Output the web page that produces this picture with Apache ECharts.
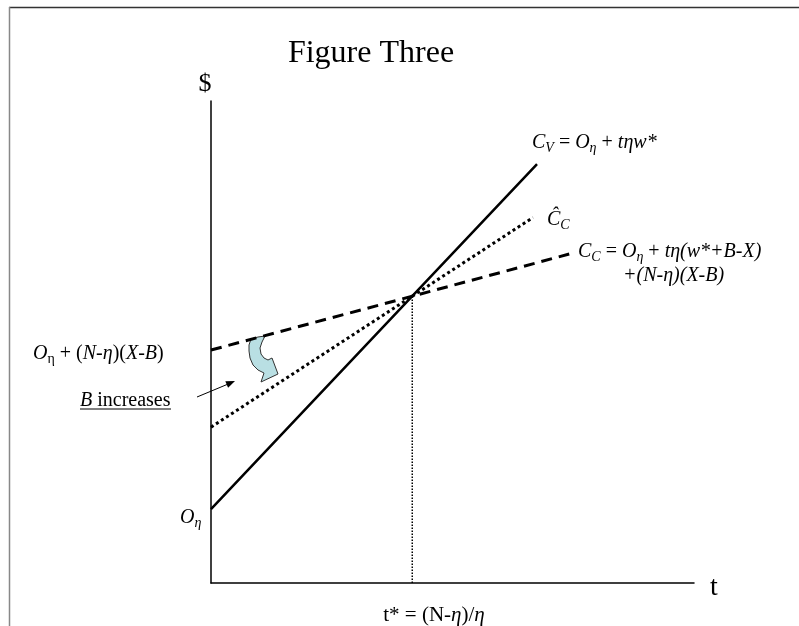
<!DOCTYPE html>
<html>
<head>
<meta charset="utf-8">
<script src="https://cdn.jsdelivr.net/npm/echarts@6/dist/echarts.min.js"></script>
<style>
html,body{margin:0;padding:0;background:#fff;}
#chart{width:799px;height:626px;}
</style>
</head>
<body>
<div id="chart"></div>
<script>
// ---- data (abstract units; x: 0..12, y: 0..12) ----
var xRange = [0, 12];
var yRange = [0, 12];
var tStar = 5;                       // t* = (N-eta)/eta
var crossY = 7.14;                   // value where the three lines meet
var cvLine = [[0, 1.84], [tStar, crossY], [8.1, 10.43]];   // C_V (solid)
var ccHatLine = [[0, 3.88], [tStar, crossY], [8.0, 9.1]];  // C-hat_C (dotted)
var ccLine = [[0, 5.80], [tStar, crossY], [8.9, 8.19]];    // C_C (dashed)
var tStarLine = [[tStar, 0], [tStar, crossY]];

var serif = '"Liberation Serif","Times New Roman",serif';
var chart = echarts.init(document.getElementById('chart'));

function rich(size) {
  var ss = Math.round(size * 0.68);
  var pad = Math.round(size * 0.55);
  return {
    n: {fontFamily: serif, fontSize: size, color: '#000'},
    i: {fontFamily: serif, fontSize: size, fontStyle: 'italic', color: '#000'},
    s: {fontFamily: serif, fontSize: ss, fontStyle: 'italic', color: '#000', padding: [pad, 0, 0, 0]},
    su: {fontFamily: serif, fontSize: ss, color: '#000', padding: [pad, 0, 0, 0]}
  };
}
function label(x, y, text, size) {
  return {type: 'text', x: x, y: y, style: {text: text, rich: rich(size), verticalAlign: 'middle', align: 'left'}};
}

var option = {
  animation: false,
  backgroundColor: '#fff',
  title: {
    text: 'Figure Three', left: 366, top: 33, textAlign: 'center',
    textStyle: {fontFamily: serif, fontSize: 32, fontWeight: 'normal', color: '#000'}
  },
  grid: {left: 211, right: 105, top: 101, bottom: 43},
  xAxis: {
    type: 'value', min: xRange[0], max: xRange[1],
    axisLine: {show: true, lineStyle: {color: '#000', width: 1.5}},
    axisTick: {show: false}, axisLabel: {show: false}, splitLine: {show: false}
  },
  yAxis: {
    type: 'value', min: yRange[0], max: yRange[1],
    axisLine: {show: true, lineStyle: {color: '#000', width: 1.5}},
    axisTick: {show: false}, axisLabel: {show: false}, splitLine: {show: false}
  },
  series: [
    {type: 'line', data: cvLine, symbol: 'none', lineStyle: {color: '#000', width: 2.5, type: 'solid'}},
    {type: 'line', data: ccHatLine, symbol: 'none', lineStyle: {color: '#000', width: 3, type: [3, 3]}},
    {type: 'line', data: ccLine, symbol: 'none', lineStyle: {color: '#000', width: 3, type: [11, 7]}},
    {type: 'line', data: tStarLine, symbol: 'none', lineStyle: {color: '#000', width: 1.5, type: [1.5, 1.5]}}
  ],
  graphic: [
    // frame
    {type: 'line', shape: {x1: 9, y1: 7.5, x2: 799, y2: 7.5}, style: {stroke: '#333', lineWidth: 1.5}},
    {type: 'line', shape: {x1: 9.5, y1: 7, x2: 9.5, y2: 626}, style: {stroke: '#888', lineWidth: 1.5}},
    // axis titles
    {type: 'text', x: 205, y: 84, style: {text: '$', fontFamily: serif, fontSize: 26, fill: '#000', align: 'center', verticalAlign: 'middle'}},
    {type: 'text', x: 714, y: 588, style: {text: 't', fontFamily: serif, fontSize: 28, fill: '#000', align: 'center', verticalAlign: 'middle'}},
    // line labels
    label(532, 143, '{i|C}{s|V}{n| = }{i|O}{s|η}{n| + }{i|tηw*}', 20),
    label(547, 220, '{i|Ĉ}{s|C}', 20),
    label(578, 252, '{i|C}{s|C}{n| = }{i|O}{s|η}{n| + }{i|tη(w*+B-X)}', 20),
    label(623, 276, '{i|+(N-η)(X-B)}', 20),
    label(33, 354, '{i|O}{su|η}{n| + (}{i|N-η}{n|)(}{i|X-B}{n|)}', 20),
    label(180, 518, '{i|O}{s|η}', 20),
    label(80, 401, '{i|B}{n| increases}', 20),
    {type: 'line', shape: {x1: 80, y1: 409, x2: 171, y2: 409}, style: {stroke: '#000', lineWidth: 1}},
    {type: 'text', x: 434, y: 615, style: {text: '{n|t* = (N-}{i|η}{n|)/}{i|η}', rich: rich(21), align: 'center', verticalAlign: 'middle'}},
    // small arrow
    {type: 'line', shape: {x1: 197, y1: 397, x2: 227, y2: 384.5}, style: {stroke: '#000', lineWidth: 1}},
    {type: 'polygon', shape: {points: [[235, 381], [228.1, 387.7], [225.3, 381.3]]}, style: {fill: '#000'}},
    // curved light-blue arrow
    {type: 'polygon', shape: {points: [
      [251, 339], [258, 337], [265, 336], [262, 342], [260, 348], [261, 354], [264, 358], [268, 360],
      [272, 358], [278, 374], [261, 382], [264, 373], [258, 370], [253, 365], [250, 358], [249, 351], [249, 345]
    ]}, style: {fill: '#b9dfe3', stroke: '#333', lineWidth: 1}}
  ]
};
chart.setOption(option);
</script>
</body>
</html>
